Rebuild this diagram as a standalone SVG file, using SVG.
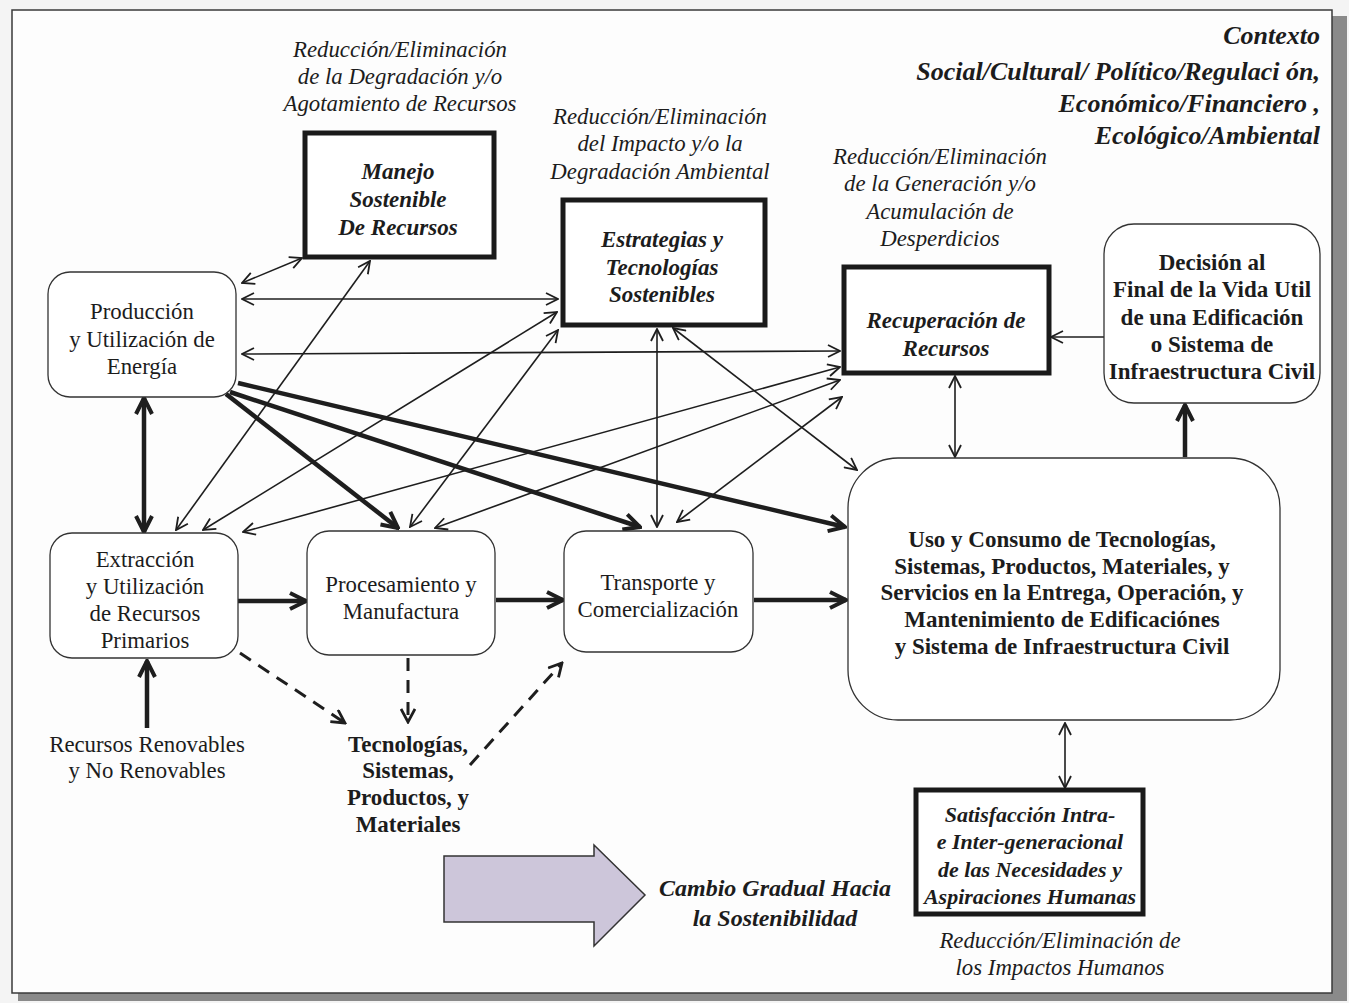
<svg xmlns="http://www.w3.org/2000/svg" width="1349" height="1003" viewBox="0 0 1349 1003">
<defs>
<style>
.t{font-family:"Liberation Serif","Times New Roman",serif;fill:#1c1c1c;text-anchor:middle}
.r{font-size:22.8px}
.b{font-size:23px;font-weight:bold}
.bi{font-size:23px;font-weight:bold;font-style:italic}
.i{font-size:22.8px;font-style:italic}
.ctx{font-size:26px;font-weight:bold;font-style:italic;text-anchor:end}
.rn{fill:#fff;stroke:#333;stroke-width:1.3}
.tk{fill:#fff;stroke:#1a1a1a;stroke-width:5}
.thin{stroke:#1e1e1e;stroke-width:1.6;fill:none;marker-end:url(#a);marker-start:url(#a)}
.one{stroke:#1e1e1e;stroke-width:1.6;fill:none;marker-end:url(#a)}
.thick{stroke:#1e1e1e;stroke-width:4.5;fill:none;marker-end:url(#h)}
.dash{stroke:#1e1e1e;stroke-width:3;fill:none;stroke-dasharray:13 9;marker-end:url(#d)}
</style>
<marker id="a" viewBox="0 0 14 14" refX="13" refY="7" markerWidth="14" markerHeight="14" markerUnits="userSpaceOnUse" orient="auto-start-reverse"><path d="M1,1 L13,7 L1,13" fill="none" stroke="#1e1e1e" stroke-width="1.8"/></marker>
<marker id="h" viewBox="0 0 20 20" refX="18" refY="10" markerWidth="20" markerHeight="20" markerUnits="userSpaceOnUse" orient="auto-start-reverse"><path d="M2,2 L18,10 L2,18" fill="none" stroke="#1e1e1e" stroke-width="4"/></marker>
<marker id="d" viewBox="0 0 16 16" refX="14" refY="8" markerWidth="16" markerHeight="16" markerUnits="userSpaceOnUse" orient="auto"><path d="M1,1 L14,8 L1,15" fill="none" stroke="#1e1e1e" stroke-width="2.8"/></marker>
</defs>
<rect x="0" y="0" width="1349" height="1003" fill="#f4f4f4"/>
<rect x="1332" y="16" width="15" height="985" fill="#8a8a8a"/>
<rect x="18" y="993" width="1329" height="8" fill="#8a8a8a"/>
<rect x="12" y="10" width="1320" height="983" fill="#fdfdfd" stroke="#3a3a3a" stroke-width="1.5"/>

<g id="connectors">
<line class="thin" x1="242" y1="283" x2="302" y2="258"/>
<line class="thin" x1="242" y1="299" x2="558" y2="299"/>
<line class="thin" x1="242" y1="354" x2="840" y2="351"/>
<line class="thin" x1="370" y1="261" x2="176" y2="530"/>
<line class="thin" x1="557" y1="312" x2="203" y2="530"/>
<line class="thin" x1="558" y1="330" x2="410" y2="527"/>
<line class="thin" x1="840" y1="367" x2="243" y2="532"/>
<line class="thin" x1="840" y1="380" x2="435" y2="528"/>
<line class="thin" x1="842" y1="397" x2="677" y2="522"/>
<line class="thin" x1="657" y1="329" x2="657" y2="527"/>
<line class="thin" x1="673" y1="328" x2="857" y2="470"/>
<line class="one" x1="1104" y1="337" x2="1051" y2="337"/>
<line class="thin" x1="955" y1="376" x2="955" y2="457"/>
<line class="thin" x1="1065" y1="723" x2="1065" y2="788"/>
<line class="thick" style="marker-start:url(#h)" x1="144" y1="398" x2="144" y2="532"/>
<line class="thick" x1="147" y1="728" x2="147" y2="661"/>
<line class="thick" x1="226" y1="394" x2="398" y2="528"/>
<line class="thick" x1="230" y1="392" x2="640" y2="527"/>
<line class="thick" x1="238" y1="383" x2="845" y2="527"/>
<line class="thick" x1="238" y1="601" x2="306" y2="601"/>
<line class="thick" x1="496" y1="600" x2="563" y2="600"/>
<line class="thick" x1="754" y1="600" x2="846" y2="600"/>
<line class="thick" x1="1185" y1="457" x2="1185" y2="405"/>
<line class="dash" x1="240" y1="653" x2="345" y2="723"/>
<line class="dash" x1="408" y1="658" x2="408" y2="722"/>
<line class="dash" x1="470" y1="765" x2="562" y2="663"/>
</g>

<g id="produccion"><rect class="rn" x="48" y="272" width="188" height="125" rx="22"/>
<text class="t r"><tspan x="142" y="319">Producción</tspan><tspan x="142" y="347">y Utilización de</tspan><tspan x="142" y="374">Energía</tspan></text></g>

<g id="extraccion"><rect class="rn" x="50" y="533" width="188" height="125" rx="22"/>
<text class="t r"><tspan x="145" y="567">Extracción</tspan><tspan x="145" y="594">y Utilización</tspan><tspan x="145" y="621">de Recursos</tspan><tspan x="145" y="648">Primarios</tspan></text></g>

<g id="procesamiento"><rect class="rn" x="307" y="531" width="188" height="124" rx="22"/>
<text class="t r"><tspan x="401" y="592">Procesamiento y</tspan><tspan x="401" y="619">Manufactura</tspan></text></g>

<g id="transporte"><rect class="rn" x="564" y="531" width="189" height="121" rx="22"/>
<text class="t r"><tspan x="658" y="590">Transporte y</tspan><tspan x="658" y="617">Comercialización</tspan></text></g>

<g id="uso"><rect class="rn" x="848" y="458" width="432" height="262" rx="50"/>
<text class="t b"><tspan x="1062" y="547">Uso y Consumo de Tecnologías,</tspan><tspan x="1062" y="574">Sistemas, Productos, Materiales, y</tspan><tspan x="1062" y="600">Servicios en la Entrega, Operación, y</tspan><tspan x="1062" y="627">Mantenimiento de Edificaciónes</tspan><tspan x="1062" y="654">y Sistema de Infraestructura Civil</tspan></text></g>

<g id="decision"><rect class="rn" x="1104" y="224" width="216" height="179" rx="30"/>
<text class="t b"><tspan x="1212" y="270">Decisión al</tspan><tspan x="1212" y="297">Final de la Vida Util</tspan><tspan x="1212" y="325">de una Edificación</tspan><tspan x="1212" y="352">o Sistema de</tspan><tspan x="1212" y="379">Infraestructura Civil</tspan></text></g>

<g id="manejo"><rect class="tk" x="305" y="133" width="189" height="124"/>
<text class="t bi"><tspan x="398" y="179">Manejo</tspan><tspan x="398" y="207">Sostenible</tspan><tspan x="398" y="235">De Recursos</tspan></text></g>

<g id="estrategias"><rect class="tk" x="563" y="200" width="202" height="125"/>
<text class="t bi"><tspan x="662" y="247">Estrategias y</tspan><tspan x="662" y="275">Tecnologías</tspan><tspan x="662" y="302">Sostenibles</tspan></text></g>

<g id="recuperacion"><rect class="tk" x="844" y="267" width="205" height="106"/>
<text class="t bi"><tspan x="946" y="328">Recuperación de</tspan><tspan x="946" y="356">Recursos</tspan></text></g>

<g id="satisfaccion"><rect class="tk" x="916" y="790" width="227" height="124"/>
<text class="t bi" style="font-size:22px"><tspan x="1030" y="822">Satisfacción Intra-</tspan><tspan x="1030" y="849">e Inter-generacional</tspan><tspan x="1030" y="877">de las Necesidades y</tspan><tspan x="1030" y="904">Aspiraciones Humanas</tspan></text></g>

<g id="tecnologias"><text class="t b"><tspan x="408" y="752">Tecnologías,</tspan><tspan x="408" y="778">Sistemas,</tspan><tspan x="408" y="805">Productos, y</tspan><tspan x="408" y="832">Materiales</tspan></text></g>

<g id="recursos"><text class="t r"><tspan x="147" y="752">Recursos Renovables</tspan><tspan x="147" y="778">y No Renovables</tspan></text></g>

<g id="notes">
<text class="t i"><tspan x="400" y="57">Reducción/Eliminación</tspan><tspan x="400" y="84">de la Degradación y/o</tspan><tspan x="400" y="111">Agotamiento de Recursos</tspan></text>
<text class="t i"><tspan x="660" y="124">Reducción/Eliminación</tspan><tspan x="660" y="151">del Impacto y/o la</tspan><tspan x="660" y="179">Degradación Ambiental</tspan></text>
<text class="t i"><tspan x="940" y="164">Reducción/Eliminación</tspan><tspan x="940" y="191">de la Generación y/o</tspan><tspan x="940" y="219">Acumulación de</tspan><tspan x="940" y="246">Desperdicios</tspan></text>
<text class="t i"><tspan x="1060" y="948">Reducción/Eliminación de</tspan><tspan x="1060" y="975">los Impactos Humanos</tspan></text>
</g>

<g id="contexto"><text class="t ctx"><tspan x="1320" y="44">Contexto</tspan><tspan x="1320" y="80">Social/Cultural/ Político/Regulaci ón,</tspan><tspan x="1320" y="112">Económico/Financiero ,</tspan><tspan x="1320" y="144">Ecológico/Ambiental</tspan></text></g>

<g id="cambio">
<polygon points="444,856 594,856 594,845 645,895 594,946 594,922 444,922" fill="#cdc6da" stroke="#333" stroke-width="1.5"/>
<text class="t bi" style="font-size:24px"><tspan x="775" y="896">Cambio Gradual Hacia</tspan><tspan x="775" y="926">la Sostenibilidad</tspan></text>
</g>
</svg>
